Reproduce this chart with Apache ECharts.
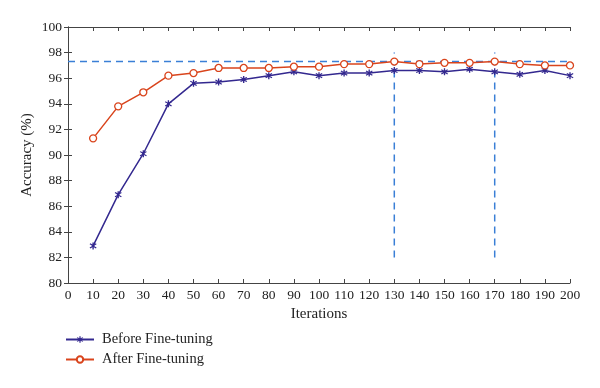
<!DOCTYPE html>
<html><head><meta charset="utf-8">
<script src="https://cdn.jsdelivr.net/npm/echarts@6/dist/echarts.min.js"></script>
<style>html,body{margin:0;padding:0;background:#fff}#c{width:600px;height:388px}</style>
</head><body><div id="c"></div>
<script>
const iterations = [10,20,30,40,50,60,70,80,90,100,110,120,130,140,150,160,170,180,190,200];
const beforeFT = [82.9,86.9,90.1,94.0,95.6,95.7,95.9,96.2,96.5,96.2,96.4,96.4,96.6,96.6,96.5,96.7,96.5,96.3,96.6,96.2];
const afterFT  = [91.3,93.8,94.9,96.2,96.4,96.8,96.8,96.8,96.9,96.9,97.1,97.1,97.3,97.1,97.2,97.2,97.3,97.1,97.0,97.0];
const refLevel = 97.3;
const refX = [0, 200];
const vLineX = [130, 170];
const vLineY = [82, 98];
const xTicks = {min:0, max:200, step:10};
const yTicks = {min:80, max:100, step:2};

const FONT = 'Liberation Serif';
const gridColor = '#444';
const asterisk = 'path://M4.2,0 L5.8,0 L5.8,3.0 L8.4,1.3 L9.2,2.7 L6.6,4.3 L6.6,5.7 L9.2,7.3 L8.4,8.7 L5.8,7.0 L5.8,10 L4.2,10 L4.2,7.0 L1.6,8.7 L0.8,7.3 L3.4,5.7 L3.4,4.3 L0.8,2.7 L1.6,1.3 L4.2,3.0 Z';

const chart = echarts.init(document.getElementById('c'));
const axCommon = {
  type:'value',
  axisLine:{show:true, lineStyle:{color:gridColor, width:1}},
  axisTick:{show:true, inside:true, length:4, lineStyle:{color:gridColor}},
  splitLine:{show:false},
  axisLabel:{color:'#222', fontFamily:FONT, fontSize:13.5}
};
const dashStyle = {color:'#3a7fd6', width:1.5, type:[7,5]};
chart.setOption({
  animation:false,
  grid:{left:68, right:30, top:27, bottom:105},
  legend:{
    orient:'vertical', left:60, top:327, itemGap:5, itemWidth:28, itemHeight:8,
    data:['Before Fine-tuning','After Fine-tuning'],
    textStyle:{fontFamily:FONT, fontSize:14.5, color:'#222', padding:[0,0,0,3]}
  },
  xAxis:[
    Object.assign({}, axCommon, {min:xTicks.min, max:xTicks.max, interval:xTicks.step,
      name:'Iterations', nameLocation:'middle', nameGap:22,
      nameTextStyle:{fontFamily:FONT, fontSize:15, color:'#222'},
      axisLabel:Object.assign({}, axCommon.axisLabel, {margin:5})}),
    Object.assign({}, axCommon, {position:'top', min:xTicks.min, max:xTicks.max, interval:xTicks.step, axisLabel:{show:false}})
  ],
  yAxis:[
    Object.assign({}, axCommon, {min:yTicks.min, max:yTicks.max, interval:yTicks.step,
      name:'Accuracy (%)', nameLocation:'middle', nameGap:33, nameMoveOverlap:false,
      nameTextStyle:{fontFamily:FONT, fontSize:15, color:'#222'},
      axisLabel:Object.assign({}, axCommon.axisLabel, {margin:6})}),
    Object.assign({}, axCommon, {position:'right', min:yTicks.min, max:yTicks.max, interval:yTicks.step, axisLabel:{show:false}})
  ],
  series:[
    {name:'ref-h', type:'line', data:refX.map(x=>[x, refLevel]), symbol:'none', lineStyle:dashStyle, z:1, silent:true},
    {name:'ref-v1', type:'line', data:vLineY.map(y=>[vLineX[0], y]), symbol:'none', lineStyle:dashStyle, z:1, silent:true},
    {name:'ref-v2', type:'line', data:vLineY.map(y=>[vLineX[1], y]), symbol:'none', lineStyle:dashStyle, z:1, silent:true},
    {name:'Before Fine-tuning', type:'line', data:iterations.map((x,i)=>[x, beforeFT[i]]),
      symbol:asterisk, symbolSize:7, showSymbol:true,
      itemStyle:{color:'#33288f'}, lineStyle:{color:'#33288f', width:1.5}, z:3},
    {name:'After Fine-tuning', type:'line', data:iterations.map((x,i)=>[x, afterFT[i]]),
      symbol:'circle', symbolSize:7, showSymbol:true,
      itemStyle:{color:'#fff', borderColor:'#d9441c', borderWidth:1.3}, lineStyle:{color:'#d9441c', width:1.5}, z:4}
  ]
});
</script></body></html>
